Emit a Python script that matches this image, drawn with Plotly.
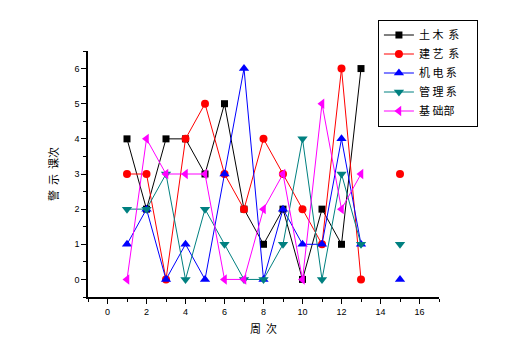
import plotly.graph_objects as go

weeks = [1, 2, 3, 4, 5, 6, 7, 8, 9, 10, 11, 12, 13, 14, 15]
names = ["土\u00a0木\u00a0\u00a0系", "建\u00a0艺\u00a0\u00a0系", "机\u00a0电\u00a0系", "管\u00a0理\u00a0系", "基\u00a0础部"]
tumu = [4, 2, 4, 4, 3, 5, 2, 1, 2, 0, 2, 1, 6, None, None]
jianyi = [3, 3, 0, 4, 5, 3, 2, 4, 3, 2, 1, 6, 0, None, 3]
jidian = [1, 2, 0, 1, 0, 3, 6, 0, 2, 1, 1, 4, 1, None, 0]
guanli = [2, 2, 3, 0, 2, 1, 0, 0, 1, 4, 0, 3, 1, None, 1]
jichu = [0, 4, 3, 3, 3, 0, 0, 2, 3, 0, 5, 2, 3, None, 5]

x_ticks = [0, 2, 4, 6, 8, 10, 12, 14, 16]
y_ticks = [0, 1, 2, 3, 4, 5, 6]

series = [tumu, jianyi, jidian, guanli, jichu]
colors = ["#000000", "#ff0000", "#0000ff", "#008080", "#ff00ff"]
symbols = ["square", "circle", "triangle-up", "triangle-down", "triangle-left"]
sizes = [7, 8, 9, 9, 9]

fig = go.Figure()
for name, ys, c, s, sz in zip(names, series, colors, symbols, sizes):
    fig.add_trace(go.Scatter(
        x=weeks, y=ys, name=name + "\u00a0" * 5, mode="lines+markers",
        line=dict(color=c, width=1),
        marker=dict(color=c, symbol=s, size=sz, line=dict(width=0)),
        connectgaps=False,
    ))

tick_font = dict(family="Liberation Sans, Arial", size=9, color="#000000")
cjk = "Noto Sans CJK SC"

fig.update_layout(
    width=501, height=349,
    margin=dict(l=80, r=70, t=32, b=60),
    paper_bgcolor="white", plot_bgcolor="white",
    showlegend=True,
    legend=dict(
        x=0.826, y=1.128, xanchor="left", yanchor="top",
        bordercolor="#000000", borderwidth=1, bgcolor="white",
        font=dict(family=cjk, size=11, color="#000000"),
        tracegroupgap=0, itemwidth=30,
    ),
    xaxis=dict(
        range=[-1, 17], tickvals=x_ticks, ticktext=[str(v) for v in x_ticks],
        showgrid=False, zeroline=False, showline=True, linecolor="#000000",
        linewidth=1.5, ticks="outside", ticklen=5, tickwidth=1, tickcolor="#000000",
        tickfont=tick_font, automargin=False,
        minor=dict(dtick=1, tick0=0, ticks="outside", ticklen=3, tickcolor="#000000"),
        title=dict(text="周\u00a0\u00a0次", font=dict(family=cjk, size=11, color="#000000"), standoff=10),
    ),
    yaxis=dict(
        range=[-0.5, 6.5], tickvals=y_ticks, ticktext=[str(v) for v in y_ticks],
        showgrid=False, zeroline=False, showline=True, linecolor="#000000",
        linewidth=1.5, ticks="outside", ticklen=5, tickwidth=1, tickcolor="#000000",
        tickfont=tick_font, automargin=False,
        minor=dict(dtick=0.5, tick0=0, ticks="outside", ticklen=3, tickcolor="#000000"),
        title=dict(text="警\u00a0\u00a0示\u00a0\u00a0课次", font=dict(family=cjk, size=11, color="#000000"), standoff=14),
    ),
)

fig.write_html("out.html")
